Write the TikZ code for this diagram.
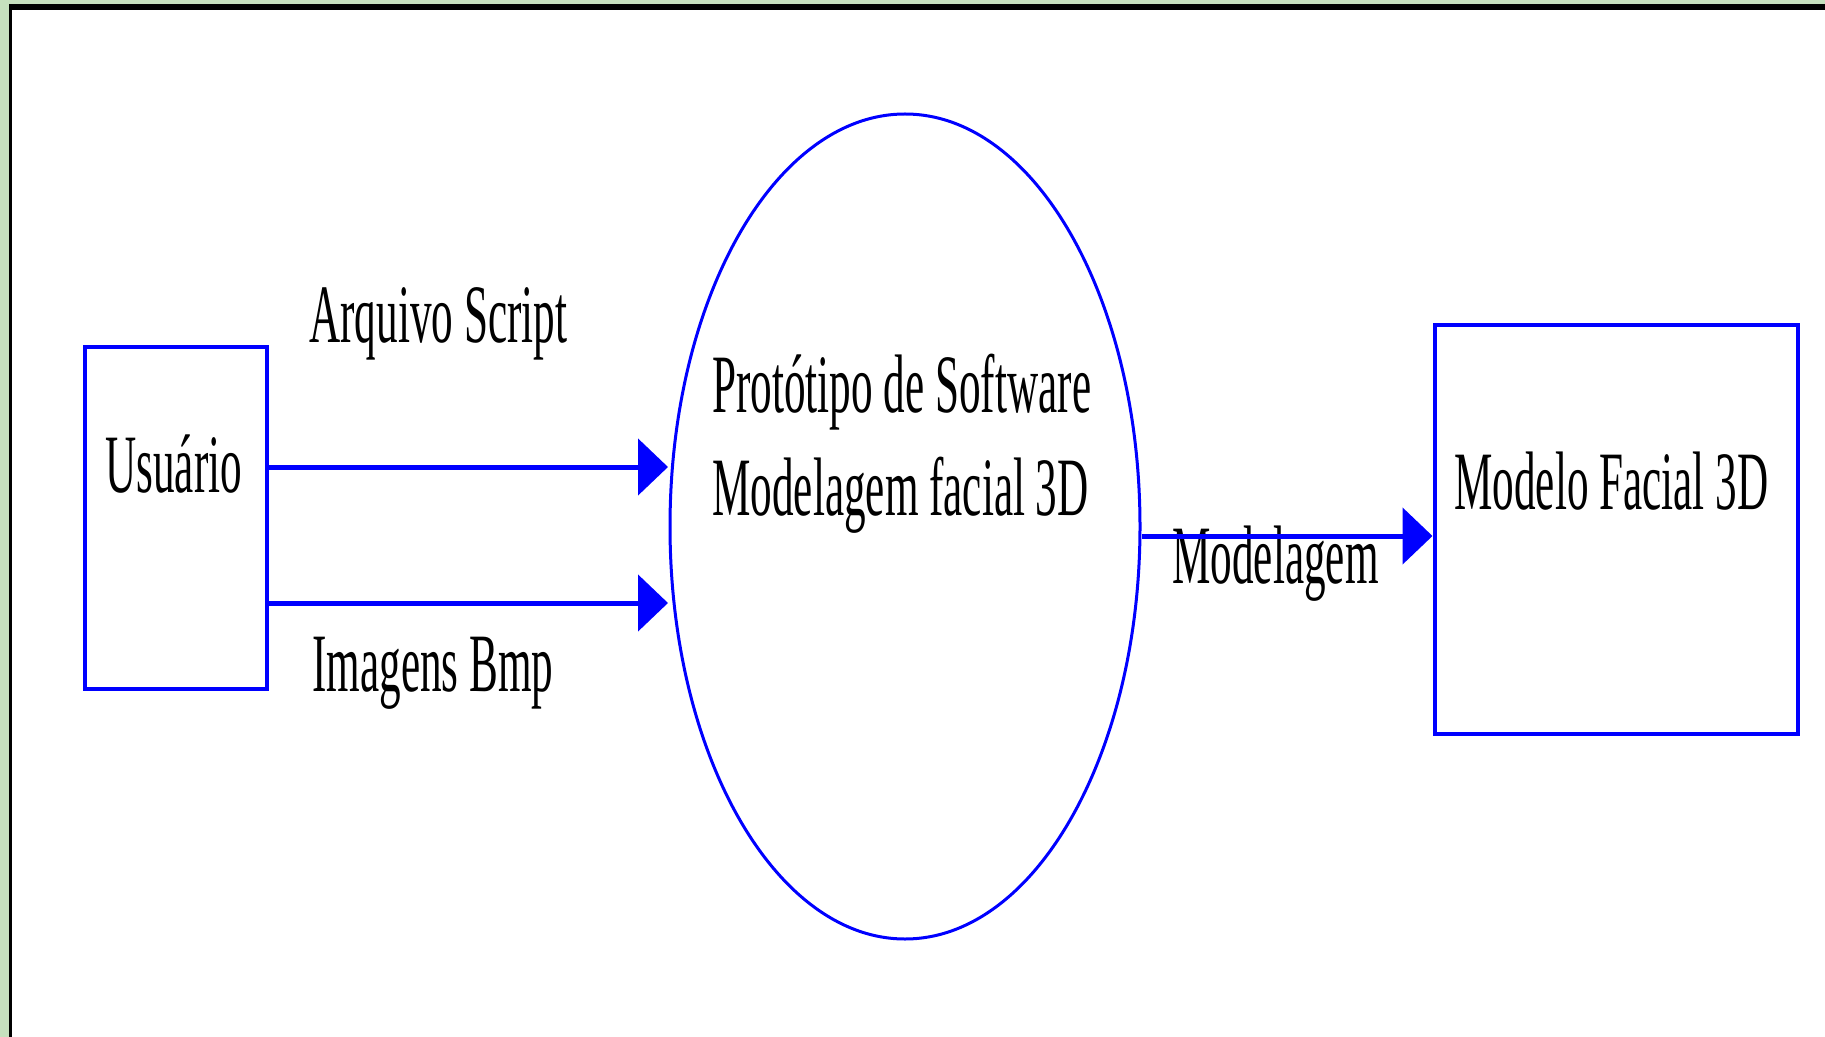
\documentclass[tikz,border=0pt]{standalone}
\usepackage{fontspec}
\newfontfamily\condserif[FakeStretch=0.52]{Liberation Serif}
\usetikzlibrary{shapes.geometric,arrows.meta}
\definecolor{bgreen}{RGB}{198,224,190}
\definecolor{dblue}{RGB}{0,0,255}
\tikzset{
  lbl/.style={anchor=base west, inner sep=0pt, font=\condserif\fontsize{41.5}{50}\selectfont, text=black},
  entity/.style={draw=dblue, line width=2pt, rectangle, inner sep=0pt},
  procshape/.style={draw=dblue, line width=1.5pt, ellipse, inner sep=0pt},
  flow/.style={draw=dblue, line width=2.5pt, -{Triangle[length=15pt,width=28pt]}, shorten >=0pt}
}
\begin{document}
\begin{tikzpicture}[x=0.5pt,y=-0.5pt]
\useasboundingbox (0,0) rectangle (1825,1037);
\fill[bgreen] (0,0) rectangle (1825,1037);
\fill[black] (9,4) rectangle (1825,1037);
\fill[white] (12,10) rectangle (1825,1037);

\node[entity, minimum width=91pt, minimum height=171pt] (usuario) at (176,518) {};
\node[procshape, minimum width=235pt, minimum height=412.5pt] (proc) at (905,526.5) {};
\node[entity, minimum width=181.5pt, minimum height=204.5pt] (modelo) at (1616,529.5) {};

\node[lbl] (usuarioLbl) at (105,492) {Usuário};
\node[lbl] (arqLbl) at (309,343) {Arquivo Script};
\node[lbl] (imgLbl) at (312,691) {Imagens Bmp};
\node[lbl] (protoA) at (712,413) {Protótipo de Software};
\node[lbl] (protoB) at (712,515) {Modelagem facial 3D};
\node[lbl] (modelagemLbl) at (1172,583) {Modelagem};
\node[lbl] (modeloLbl) at (1454,509) {Modelo Facial 3D};

\coordinate (a1s) at (usuario.east |- 0,467);
\coordinate (a1e) at (668,467);
\coordinate (a2s) at (usuario.east |- 0,603);
\coordinate (a2e) at (668,603);
\coordinate (a3s) at (proc.east |- 0,536);
\coordinate (a3e) at (modelo.west |- 0,536);
\draw[flow] (a1s) -- (a1e);
\draw[flow] (a2s) -- (a2e);
\draw[flow] (a3s) -- (a3e);
\end{tikzpicture}
\end{document}
